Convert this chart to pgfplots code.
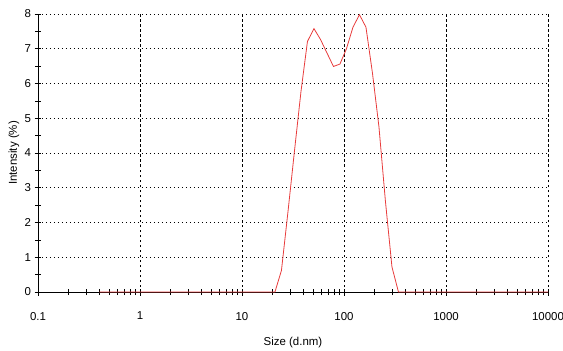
\documentclass[border=0pt]{standalone}
\usepackage{fontspec}
\setmainfont{Liberation Sans}
\usepackage{pgfplots}
\pgfplotsset{compat=1.18}
\definecolor{curvered}{RGB}{232,60,60}
\begin{document}
\begin{tikzpicture}
\begin{axis}[
  scale only axis, width=510bp, height=278bp,
  xmode=log, xmin=0.1, xmax=10000, ymin=0, ymax=8,
  axis lines=left, axis line style={-, line width=0.9bp},
  xtick={0.1,1,10,100,1000,10000},
  xticklabels={0.1,1,10,100,1000,10000},
  ytick={0,1,2,3,4,5,6,7,8},
  minor y tick num=1,
  tick align=center,
  major tick length=7bp, minor tick length=6bp,
  tick style={black, line width=0.7bp},
  grid=major,
  x grid style={black, line width=0.7bp, dash pattern=on 2.5bp off 2.5bp},
  y grid style={black, line width=0.9bp, dash pattern=on 1bp off 3bp},
  ticklabel style={font=\fontsize{11.5}{13}\selectfont},
  /pgf/number format/assume math mode=true,
  x tick label style={yshift=-13bp},
  xlabel={Size (d.nm)}, ylabel={Intensity (\%)},
  label style={font=\fontsize{11.5}{13}\selectfont},
  xlabel style={at={(axis description cs:0.5,0)}, anchor=center, yshift=-51bp},
  ylabel style={at={(axis description cs:0,0.5)}, anchor=center, yshift=24bp},
  clip=false,
]
\addplot[curvered, line width=0.8bp] coordinates {
(0.4,0) (21.04,0) (24.36,0.62) (28.21,2.3) (32.67,4.05) (37.84,5.76)
(43.82,7.21) (50.75,7.58) (58.77,7.27) (68.06,6.88) (78.82,6.49)
(91.28,6.56) (105.7,7.0) (122.4,7.62) (141.8,7.98) (164.2,7.62)
(190.1,6.3) (220.2,4.75) (255.0,2.6) (295.3,0.72) (342.0,0) (10000,0)
};
\end{axis}
\pgfresetboundingbox
\path[use as bounding box] (-38bp,-59bp) rectangle (525bp,292bp);
\end{tikzpicture}
\end{document}
